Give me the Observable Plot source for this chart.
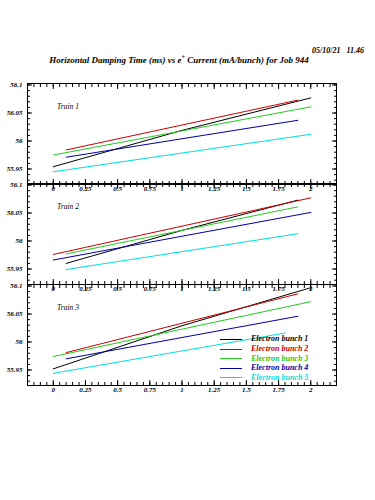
<!DOCTYPE html>
<html>
<head>
<meta charset="utf-8">
<script src="https://cdn.jsdelivr.net/npm/d3@7"></script>
<script src="https://cdn.jsdelivr.net/npm/@observablehq/plot@0.6"></script>
<style>
  html, body { margin: 0; padding: 0; background: #fff; }
  #wrap { position: relative; width: 375px; height: 500px; overflow: hidden; font-family: "Liberation Serif", "DejaVu Serif", serif; }
  .abs { position: absolute; white-space: nowrap; }
  #title { left: 0; width: 358px; top: 51px; text-align: center; font-size: 9px; font-style: italic; font-weight: bold; line-height: 12px; }
  #date { right: 11px; top: 45px; font-size: 8px; font-style: italic; font-weight: bold; line-height: 12px; }
  .leg { position: absolute; left: 220px; width: 110px; height: 10px; font-size: 8px; font-style: italic; font-weight: bold; white-space: nowrap; }
  .leg .ln { position: absolute; left: 0; top: 4.5px; width: 22px; height: 1px; }
  .leg .tx { position: absolute; left: 31px; top: -1px; line-height: 12px; white-space: nowrap; }
</style>
</head>
<body>
<div id="wrap">
  <div id="date" class="abs"></div>
  <div id="title" class="abs"></div>
</div>
<script>
// ---- data ----
const titleText = "Horizontal Damping Time (ms) vs e<sup style='font-size:6px'>+</sup> Current (mA/bunch) for Job 944";
const dateText = "05/10/21\u00a0\u00a0\u00a011.46";
const trains = ["Train 1", "Train 2", "Train 3"];
const bunches = ["Electron bunch 1", "Electron bunch 2", "Electron bunch 3", "Electron bunch 4", "Electron bunch 5"];
const colors = ["#000000", "#cc0000", "#22cc22", "#0000aa", "#00dede"];

// x (mA/bunch) and y (ms) per bunch, per train
const train1X = [[0, 1, 2], [0.1, 1.9], [0, 2], [0.1, 1.9], [0, 2]];
const train1Y = [[55.954, 56.019, 56.077], [55.984, 56.073], [55.975, 56.061], [55.971, 56.037], [55.945, 56.012]];
const train2X = [[0.1, 1, 1.9], [0, 2], [0.1, 1.9], [0, 2], [0.1, 1.9]];
const train2Y = [[55.960, 56.019, 56.073], [55.976, 56.077], [55.977, 56.061], [55.966, 56.051], [55.949, 56.013]];
const train3X = [[0, 1, 2], [0.1, 1.9], [0, 2], [0.1, 1.9], [0, 1.8]];
const train3Y = [[55.952, 56.029, 56.097], [55.981, 56.086], [55.974, 56.072], [55.970, 56.046], [55.944, 56.016]];

const xMajor = [0, 0.25, 0.5, 0.75, 1, 1.25, 1.5, 1.75, 2];
const xMinor = d3.range(-4, 45).map(i => +(i * 0.05).toFixed(2));
const yMajor = [55.95, 56, 56.05, 56.1];
const yMinor = d3.range(5593, 5611).map(i => +(i / 100).toFixed(2));
const xDomain = [-0.2, 2.2];
const yDomain = [55.9223, 56.1027];

// ---- layout ----
const frameTops = [83, 183, 284];
const PH = 101, MT = 4, MB = 16, FL = 27, FR = 336;
const wrap = document.getElementById("wrap");
document.getElementById("title").innerHTML = titleText;
document.getElementById("date").textContent = dateText;

const fmtX = d => String(d);
const fmtY = d => String(+d.toFixed(2));
const blank = () => "";
const tickFont = {fontSize: 7, fontStyle: "italic", fontWeight: "bold", fontFamily: "Liberation Serif, serif"};

function panel(ti, xs, ys) {
  const rows = [];
  bunches.forEach((b, j) => xs[j].forEach((x, k) => rows.push({bunch: b, x, y: ys[j][k]})));
  const svg = Plot.plot({
    width: 375,
    height: PH + MT + MB,
    marginLeft: FL, marginRight: 375 - FR, marginTop: MT, marginBottom: MB,
    x: {domain: xDomain},
    y: {domain: yDomain},
    color: {domain: bunches, range: colors},
    style: {background: "transparent", overflow: "visible", fontFamily: "Liberation Serif, serif"},
    marks: [
      Plot.line(rows, {x: "x", y: "y", z: "bunch", stroke: "bunch", strokeWidth: 1}),
      Plot.frame({stroke: "#000", strokeWidth: 1}),
      Plot.axisX({anchor: "bottom", ticks: xMinor, tickSize: -3, tickFormat: blank, label: null}),
      Plot.axisX({anchor: "top", ticks: xMinor, tickSize: -3, tickFormat: blank, label: null}),
      Plot.axisX({anchor: "top", ticks: xMajor, tickSize: -5, tickFormat: blank, label: null}),
      Plot.axisX({anchor: "bottom", ticks: xMajor, tickSize: -5, tickPadding: 7, tickFormat: fmtX, label: null, ...tickFont}),
      Plot.axisY({anchor: "left", ticks: yMinor, tickSize: -3, tickFormat: blank, label: null}),
      Plot.axisY({anchor: "right", ticks: yMinor, tickSize: -3, tickFormat: blank, label: null}),
      Plot.axisY({anchor: "right", ticks: yMajor, tickSize: -5, tickFormat: blank, label: null}),
      Plot.axisY({anchor: "left", ticks: yMajor, tickSize: -5, tickPadding: 10, tickFormat: fmtY, label: null, ...tickFont}),
      Plot.text([trains[ti]], {x: 0.03, y: 56.061, text: d => d, textAnchor: "start", fontSize: 7.5, fontStyle: "italic", fill: "#000"})
    ]
  });
  svg.style.position = "absolute";
  svg.style.left = "0px";
  svg.style.top = (frameTops[ti] - MT) + "px";
  wrap.appendChild(svg);
}

panel(0, train1X, train1Y);
panel(1, train2X, train2Y);
panel(2, train3X, train3Y);

// ---- legend (panel 3) ----
const legTops = [334, 344, 353.5, 363, 372.5];
bunches.forEach((b, j) => {
  const row = document.createElement("div");
  row.className = "leg";
  row.style.top = legTops[j] + "px";
  row.innerHTML = `<div class="ln" style="background:${colors[j]}"></div><div class="tx" style="color:${colors[j]}">${b}</div>`;
  wrap.appendChild(row);
});
</script>
</body>
</html>
